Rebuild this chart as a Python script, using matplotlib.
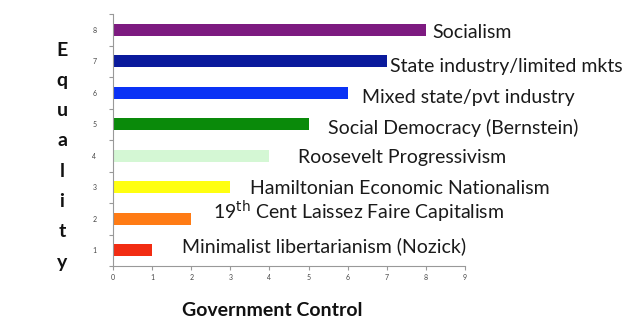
import matplotlib
matplotlib.use("Agg")
from matplotlib import pyplot as plt
import numpy as np

levels = [1, 2, 3, 4, 5, 6, 7, 8]
control = [1, 2, 3, 4, 5, 6, 7, 8]
labels = [
    "Minimalist libertarianism (Nozick)",
    "19$^{\\rm th}$ Cent Laissez Faire Capitalism",
    "Hamiltonian Economic Nationalism",
    "Roosevelt Progressivism",
    "Social Democracy (Bernstein)",
    "Mixed state/pvt industry",
    "State industry/limited mkts",
    "Socialism",
]
colors = ["#f22c12", "#ff7b14", "#ffff10", "#d4f7d4",
          "#0a8a0a", "#0a32f5", "#0a1a9c", "#7d1a80"]
x_ticks = list(range(0, 10))

# where the text sits relative to bar end (data units), hand tuned
label_dx = [0.76, 0.55, 0.5, 0.73, 0.5, 0.37, 0.08, 0.16]
label_dy = [-0.13, -0.22, 0.03, 0.07, 0.12, 0.16, 0.16, 0.1]

plt.rcParams['font.family'] = ['Lato', 'DejaVu Sans']

fig = plt.figure(figsize=(6.33, 3.23), dpi=100)
ax = fig.add_axes([113 / 633, 1 - 266 / 323, 352 / 633, 252 / 323])

ax.barh(levels, control, height=0.38, color=colors)

for v, y, txt, dx, dy in zip(control, levels, labels, label_dx, label_dy):
    ax.text(v + dx, y - dy, txt, fontsize=14, va="center", ha="left",
            color="#1a1a1a", clip_on=False)

ax.set_xlim(0, 9)
ax.set_ylim(0.5, 8.5)
ax.set_xticks(x_ticks)
ax.set_yticks(levels)
ax.set_yticks(np.arange(0.5, 9, 1), minor=True)
ax.tick_params(axis="x", length=3, width=0.8, color="#999999",
               labelsize=5, labelcolor="#444444", pad=3)
ax.tick_params(axis="y", which="major", length=0, labelsize=5,
               labelcolor="#444444", pad=12)
ax.tick_params(axis="y", which="minor", length=3, width=0.8, color="#999999")

for s in ["top", "right"]:
    ax.spines[s].set_visible(False)
for s in ["left", "bottom"]:
    ax.spines[s].set_color("#999999")
    ax.spines[s].set_linewidth(0.8)

# vertical stacked y label
for i, ch in enumerate("Equality"):
    fig.text(62 / 633, 1 - (50 + i * 30.3) / 323, ch, fontsize=14,
             fontweight="bold", ha="center", va="center", color="#111111")

fig.text(272 / 633, 1 - 311 / 323, "Government Control", fontsize=14,
         fontweight="bold", ha="center", va="center", color="#111111")

fig.savefig("out.png", dpi=100)
